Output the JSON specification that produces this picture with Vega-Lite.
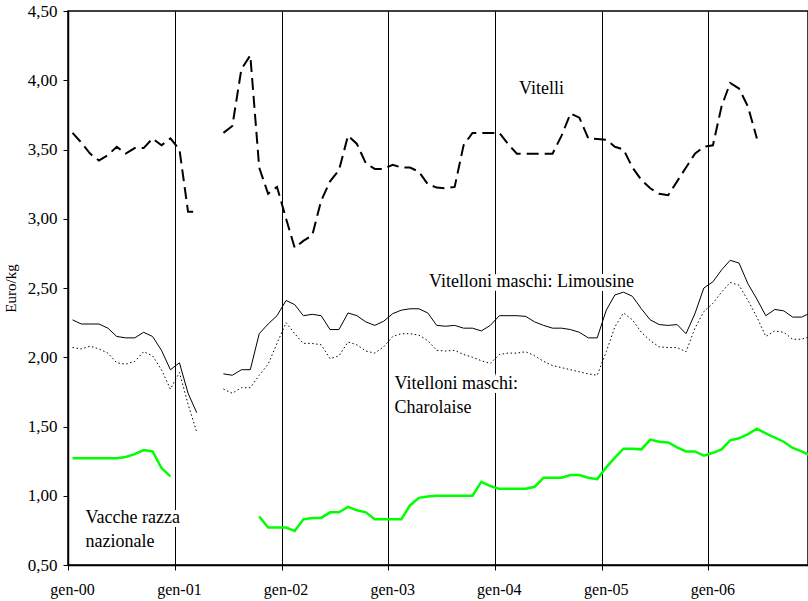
{
  "$schema": "https://vega.github.io/schema/vega-lite/v6.json",
  "width": 740,
  "height": 554,
  "autosize": {"type": "none"},
  "padding": {"left": 68, "top": 11, "right": 0, "bottom": 36},
  "background": "white",
  "config": {
    "view": {"stroke": "#000", "strokeWidth": 1.5},
    "font": "Liberation Serif"
  },
  "datasets": {
    "series": [
      {"month": "2000-01-01", "vit": 3.62, "lim": 2.27, "cha": 2.07, "vac": 1.27},
      {"month": "2000-02-01", "vit": 3.55, "lim": 2.24, "cha": 2.06, "vac": 1.27},
      {"month": "2000-03-01", "vit": 3.47, "lim": 2.24, "cha": 2.08, "vac": 1.27},
      {"month": "2000-04-01", "vit": 3.42, "lim": 2.24, "cha": 2.06, "vac": 1.27},
      {"month": "2000-05-01", "vit": 3.46, "lim": 2.21, "cha": 2.03, "vac": 1.27},
      {"month": "2000-06-01", "vit": 3.52, "lim": 2.15, "cha": 1.96, "vac": 1.27},
      {"month": "2000-07-01", "vit": 3.47, "lim": 2.14, "cha": 1.95, "vac": 1.28},
      {"month": "2000-08-01", "vit": 3.51, "lim": 2.14, "cha": 1.97, "vac": 1.30},
      {"month": "2000-09-01", "vit": 3.51, "lim": 2.18, "cha": 2.04, "vac": 1.33},
      {"month": "2000-10-01", "vit": 3.58, "lim": 2.15, "cha": 2.01, "vac": 1.32},
      {"month": "2000-11-01", "vit": 3.53, "lim": 2.05, "cha": 1.91, "vac": 1.20},
      {"month": "2000-12-01", "vit": 3.58, "lim": 1.91, "cha": 1.77, "vac": 1.14},
      {"month": "2001-01-01", "vit": 3.50, "lim": 1.96, "cha": 1.89, "vac": null},
      {"month": "2001-02-01", "vit": 3.05, "lim": 1.74, "cha": 1.66, "vac": null},
      {"month": "2001-03-01", "vit": 3.05, "lim": 1.60, "cha": 1.46, "vac": null},
      {"month": "2001-04-01", "vit": null, "lim": null, "cha": null, "vac": null},
      {"month": "2001-05-01", "vit": null, "lim": null, "cha": null, "vac": null},
      {"month": "2001-06-01", "vit": 3.62, "lim": 1.88, "cha": 1.77, "vac": null},
      {"month": "2001-07-01", "vit": 3.67, "lim": 1.87, "cha": 1.74, "vac": null},
      {"month": "2001-08-01", "vit": 4.08, "lim": 1.91, "cha": 1.78, "vac": null},
      {"month": "2001-09-01", "vit": 4.18, "lim": 1.91, "cha": 1.78, "vac": null},
      {"month": "2001-10-01", "vit": 3.37, "lim": 2.17, "cha": 1.87, "vac": 0.85},
      {"month": "2001-11-01", "vit": 3.18, "lim": 2.24, "cha": 1.95, "vac": 0.77},
      {"month": "2001-12-01", "vit": 3.23, "lim": 2.30, "cha": 2.10, "vac": 0.77},
      {"month": "2002-01-01", "vit": 3.00, "lim": 2.41, "cha": 2.25, "vac": 0.77},
      {"month": "2002-02-01", "vit": 2.79, "lim": 2.38, "cha": 2.17, "vac": 0.745},
      {"month": "2002-03-01", "vit": 2.84, "lim": 2.30, "cha": 2.10, "vac": 0.83},
      {"month": "2002-04-01", "vit": 2.88, "lim": 2.31, "cha": 2.10, "vac": 0.84},
      {"month": "2002-05-01", "vit": 3.13, "lim": 2.30, "cha": 2.09, "vac": 0.84},
      {"month": "2002-06-01", "vit": 3.27, "lim": 2.20, "cha": 1.99, "vac": 0.88},
      {"month": "2002-07-01", "vit": 3.35, "lim": 2.20, "cha": 2.01, "vac": 0.88},
      {"month": "2002-08-01", "vit": 3.60, "lim": 2.32, "cha": 2.11, "vac": 0.92},
      {"month": "2002-09-01", "vit": 3.54, "lim": 2.30, "cha": 2.09, "vac": 0.895},
      {"month": "2002-10-01", "vit": 3.40, "lim": 2.255, "cha": 2.045, "vac": 0.88},
      {"month": "2002-11-01", "vit": 3.36, "lim": 2.23, "cha": 2.03, "vac": 0.83},
      {"month": "2002-12-01", "vit": 3.36, "lim": 2.26, "cha": 2.075, "vac": 0.83},
      {"month": "2003-01-01", "vit": 3.39, "lim": 2.315, "cha": 2.15, "vac": 0.83},
      {"month": "2003-02-01", "vit": 3.37, "lim": 2.34, "cha": 2.17, "vac": 0.83},
      {"month": "2003-03-01", "vit": 3.37, "lim": 2.35, "cha": 2.17, "vac": 0.93},
      {"month": "2003-04-01", "vit": 3.34, "lim": 2.35, "cha": 2.16, "vac": 0.985},
      {"month": "2003-05-01", "vit": 3.25, "lim": 2.32, "cha": 2.12, "vac": 0.995},
      {"month": "2003-06-01", "vit": 3.225, "lim": 2.23, "cha": 2.05, "vac": 1.00},
      {"month": "2003-07-01", "vit": 3.22, "lim": 2.224, "cha": 2.045, "vac": 1.00},
      {"month": "2003-08-01", "vit": 3.23, "lim": 2.23, "cha": 2.05, "vac": 1.00},
      {"month": "2003-09-01", "vit": 3.53, "lim": 2.21, "cha": 2.02, "vac": 1.00},
      {"month": "2003-10-01", "vit": 3.62, "lim": 2.21, "cha": 2.00, "vac": 1.00},
      {"month": "2003-11-01", "vit": 3.62, "lim": 2.19, "cha": 1.975, "vac": 1.10},
      {"month": "2003-12-01", "vit": 3.62, "lim": 2.23, "cha": 1.955, "vac": 1.07},
      {"month": "2004-01-01", "vit": 3.62, "lim": 2.30, "cha": 2.02, "vac": 1.05},
      {"month": "2004-02-01", "vit": 3.54, "lim": 2.30, "cha": 2.03, "vac": 1.05},
      {"month": "2004-03-01", "vit": 3.47, "lim": 2.30, "cha": 2.03, "vac": 1.05},
      {"month": "2004-04-01", "vit": 3.47, "lim": 2.295, "cha": 2.04, "vac": 1.05},
      {"month": "2004-05-01", "vit": 3.47, "lim": 2.255, "cha": 2.01, "vac": 1.065},
      {"month": "2004-06-01", "vit": 3.47, "lim": 2.23, "cha": 1.97, "vac": 1.13},
      {"month": "2004-07-01", "vit": 3.47, "lim": 2.21, "cha": 1.94, "vac": 1.13},
      {"month": "2004-08-01", "vit": 3.60, "lim": 2.21, "cha": 1.925, "vac": 1.13},
      {"month": "2004-09-01", "vit": 3.76, "lim": 2.20, "cha": 1.91, "vac": 1.15},
      {"month": "2004-10-01", "vit": 3.73, "lim": 2.18, "cha": 1.895, "vac": 1.15},
      {"month": "2004-11-01", "vit": 3.58, "lim": 2.14, "cha": 1.88, "vac": 1.13},
      {"month": "2004-12-01", "vit": 3.575, "lim": 2.14, "cha": 1.87, "vac": 1.12},
      {"month": "2005-01-01", "vit": 3.57, "lim": 2.34, "cha": 2.04, "vac": 1.205},
      {"month": "2005-02-01", "vit": 3.52, "lim": 2.45, "cha": 2.22, "vac": 1.275},
      {"month": "2005-03-01", "vit": 3.50, "lim": 2.47, "cha": 2.32, "vac": 1.34},
      {"month": "2005-04-01", "vit": 3.37, "lim": 2.44, "cha": 2.27, "vac": 1.34},
      {"month": "2005-05-01", "vit": 3.28, "lim": 2.35, "cha": 2.18, "vac": 1.335},
      {"month": "2005-06-01", "vit": 3.22, "lim": 2.27, "cha": 2.12, "vac": 1.405},
      {"month": "2005-07-01", "vit": 3.18, "lim": 2.236, "cha": 2.075, "vac": 1.39},
      {"month": "2005-08-01", "vit": 3.17, "lim": 2.23, "cha": 2.07, "vac": 1.385},
      {"month": "2005-09-01", "vit": 3.27, "lim": 2.236, "cha": 2.07, "vac": 1.35},
      {"month": "2005-10-01", "vit": 3.37, "lim": 2.17, "cha": 2.04, "vac": 1.32},
      {"month": "2005-11-01", "vit": 3.47, "lim": 2.315, "cha": 2.21, "vac": 1.32},
      {"month": "2005-12-01", "vit": 3.52, "lim": 2.50, "cha": 2.33, "vac": 1.29},
      {"month": "2006-01-01", "vit": 3.53, "lim": 2.545, "cha": 2.39, "vac": 1.31},
      {"month": "2006-02-01", "vit": 3.81, "lim": 2.63, "cha": 2.47, "vac": 1.335},
      {"month": "2006-03-01", "vit": 3.98, "lim": 2.70, "cha": 2.54, "vac": 1.40},
      {"month": "2006-04-01", "vit": 3.94, "lim": 2.68, "cha": 2.52, "vac": 1.415},
      {"month": "2006-05-01", "vit": 3.81, "lim": 2.53, "cha": 2.41, "vac": 1.445},
      {"month": "2006-06-01", "vit": 3.58, "lim": 2.42, "cha": 2.29, "vac": 1.485},
      {"month": "2006-07-01", "vit": null, "lim": 2.30, "cha": 2.15, "vac": 1.45},
      {"month": "2006-08-01", "vit": null, "lim": 2.345, "cha": 2.19, "vac": 1.42},
      {"month": "2006-09-01", "vit": null, "lim": 2.335, "cha": 2.18, "vac": 1.39},
      {"month": "2006-10-01", "vit": null, "lim": 2.29, "cha": 2.13, "vac": 1.345},
      {"month": "2006-11-01", "vit": null, "lim": 2.29, "cha": 2.13, "vac": 1.32},
      {"month": "2006-12-01", "vit": null, "lim": 2.32, "cha": 2.15, "vac": 1.29}
    ],
    "labels": [
      {"label": "Vitelli", "date": "2004-03-24", "v": 3.90},
      {"label": "Vitelloni maschi: Limousine", "date": "2003-05-21", "v": 2.505},
      {"label": "Vitelloni maschi:", "date": "2003-01-23", "v": 1.774},
      {"label": "Charolaise", "date": "2003-01-23", "v": 1.594},
      {"label": "Vacche razza", "date": "2000-03-01", "v": 0.80},
      {"label": "nazionale", "date": "2000-03-01", "v": 0.63}
    ]
  },
  "layer": [
    {
      "data": {"name": "series"},
      "mark": {"type": "line", "color": "#000", "strokeWidth": 1, "invalid": "break-paths-filter-domains"},
      "encoding": {
        "x": {
          "field": "month", "type": "temporal", "timeUnit": "utcyearmonth", "bandPosition": 0.5,
          "scale": {"type": "utc", "domain": [{"year": 2000, "month": 1, "date": 1, "utc": true}, {"year": 2006, "month": 12, "date": 8, "utc": true}]},
          "axis": {
            "title": null,
            "values": [
              {"year": 2000, "month": 1, "date": 1, "utc": true},
              {"year": 2001, "month": 1, "date": 1, "utc": true},
              {"year": 2002, "month": 1, "date": 1, "utc": true},
              {"year": 2003, "month": 1, "date": 1, "utc": true},
              {"year": 2004, "month": 1, "date": 1, "utc": true},
              {"year": 2005, "month": 1, "date": 1, "utc": true},
              {"year": 2006, "month": 1, "date": 1, "utc": true}
            ],
            "labelExpr": "'gen-' + utcFormat(datum.value, '%y')",
            "grid": true, "gridColor": "#000", "gridWidth": 1, "gridOpacity": 1,
            "domainColor": "#000", "domainWidth": 1.5,
            "ticks": true, "tickColor": "#000", "tickSize": 5, "tickWidth": 1,
            "labelFont": "Liberation Serif", "labelFontSize": 16, "labelColor": "#000",
            "labelPadding": 11, "labelOffset": 4, "labelFlush": false, "labelOverlap": false
          }
        },
        "y": {
          "field": "lim", "type": "quantitative",
          "scale": {"domain": [0.5, 4.5], "nice": false, "zero": false},
          "axis": {
            "title": "Euro/kg", "titleFont": "Liberation Serif", "titleFontSize": 15, "titleFontWeight": "normal", "titleColor": "#000", "titlePadding": 9,
            "values": [0.5, 1, 1.5, 2, 2.5, 3, 3.5, 4, 4.5],
            "labelExpr": "replace(format(datum.value, '.2f'), '.', ',')",
            "grid": false,
            "domainColor": "#000", "domainWidth": 1.5,
            "tickColor": "#000", "tickSize": 5, "tickWidth": 1,
            "labelFont": "Liberation Serif", "labelFontSize": 17, "labelColor": "#000", "labelPadding": 6
          }
        }
      }
    },
    {
      "data": {"name": "series"},
      "mark": {"type": "line", "color": "#000", "strokeWidth": 1, "strokeDash": [1.5, 2.5], "invalid": "break-paths-filter-domains"},
      "encoding": {
        "x": {"field": "month", "type": "temporal", "timeUnit": "utcyearmonth", "bandPosition": 0.5},
        "y": {"field": "cha", "type": "quantitative"}
      }
    },
    {
      "data": {"name": "series"},
      "mark": {"type": "line", "color": "#000", "strokeWidth": 2, "strokeDash": [12, 6], "invalid": "break-paths-filter-domains"},
      "encoding": {
        "x": {"field": "month", "type": "temporal", "timeUnit": "utcyearmonth", "bandPosition": 0.5},
        "y": {"field": "vit", "type": "quantitative"}
      }
    },
    {
      "data": {"name": "series"},
      "mark": {"type": "line", "color": "#00ff00", "strokeWidth": 2.5, "invalid": "break-paths-filter-domains"},
      "encoding": {
        "x": {"field": "month", "type": "temporal", "timeUnit": "utcyearmonth", "bandPosition": 0.5},
        "y": {"field": "vac", "type": "quantitative"}
      }
    },
    {
      "data": {"name": "labels"},
      "mark": {"type": "text", "align": "left", "baseline": "alphabetic", "font": "Liberation Serif", "fontSize": 18, "color": "#fff", "stroke": "#fff", "strokeWidth": 8, "strokeJoin": "round"},
      "encoding": {
        "x": {"field": "date", "type": "temporal"},
        "y": {"field": "v", "type": "quantitative"},
        "text": {"field": "label"}
      }
    },
    {
      "data": {"name": "labels"},
      "mark": {"type": "text", "align": "left", "baseline": "alphabetic", "font": "Liberation Serif", "fontSize": 18, "color": "#000"},
      "encoding": {
        "x": {"field": "date", "type": "temporal"},
        "y": {"field": "v", "type": "quantitative"},
        "text": {"field": "label"}
      }
    }
  ]
}
